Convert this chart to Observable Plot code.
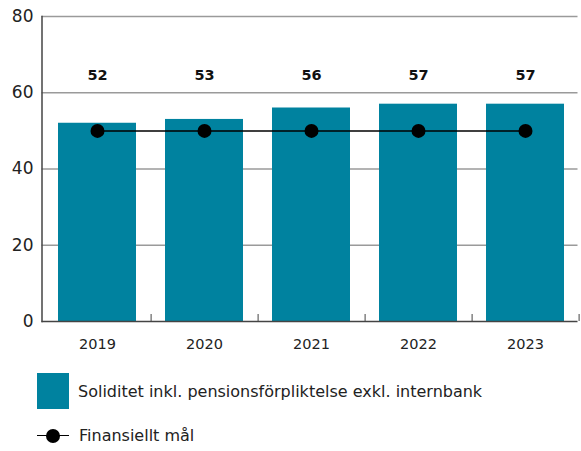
<!DOCTYPE html>
<html>
<head>
<meta charset="utf-8">
<script src="https://cdn.jsdelivr.net/npm/d3@7"></script>
<script src="https://cdn.jsdelivr.net/npm/@observablehq/plot@0.6"></script>
<style>
  body { margin: 0; background: #fff; font-family: "DejaVu Sans", sans-serif; }
  #legend { position: relative; height: 91px; color: #222; font-size: 16px; }
  .row { position: absolute; left: 0; display: flex; align-items: center; }
  .sw { width: 32px; height: 36px; background: #00829f; }
  .ln { position: relative; width: 32px; height: 14px; }
  .ln::before { content: ""; position: absolute; left: 0; right: 0; top: 6.5px; border-top: 1.5px solid #000; }
  .ln::after { content: ""; position: absolute; left: 9px; top: 0; width: 14px; height: 14px; border-radius: 50%; background: #000; }
</style>
</head>
<body>
<div id="chart"></div>
<div id="legend"></div>
<script>
const years = ["2019", "2020", "2021", "2022", "2023"];
const solidity = [52, 53, 56, 57, 57];
const target = [50, 50, 50, 50, 50];
const yTicks = [0, 20, 40, 60, 80];
const labelLevel = 64.5;
const barColor = "#00829f";
const seriesNames = ["Soliditet inkl. pensionsförpliktelse exkl. internbank", "Finansiellt mål"];

const data = years.map((y, i) => ({year: y, value: solidity[i], target: target[i]}));

const W = 581, H = 360;
const mL = 43, mR = 2;
const step = (W - mL - mR) / years.length;

const chart = Plot.plot({
  width: W, height: H,
  marginTop: 16, marginBottom: 39, marginLeft: mL, marginRight: mR,
  style: {fontFamily: "DejaVu Sans, sans-serif", color: "#222", background: "#fff"},
  x: {domain: years, paddingInner: 0.27, paddingOuter: 0.135, label: null},
  y: {domain: [0, 80], label: null},
  marks: [
    Plot.gridY(yTicks.filter(d => d > 0), {stroke: "#9a9a9a", strokeOpacity: 1, strokeWidth: 1.3, dx: -1.5}),
    Plot.barY(data, {x: "year", y: "value", fill: barColor}),
    Plot.line(data, {x: "year", y: "target", stroke: "#000", strokeWidth: 1.5}),
    Plot.dot(data, {x: "year", y: "target", r: 7, fill: "#000"}),
    Plot.text(data, {x: "year", y: () => labelLevel, text: d => String(d.value), fontWeight: "bold", fontSize: 14.5, fill: "#111"}),
    Plot.ruleY([0], {stroke: "#444", strokeWidth: 1.5, dx: -1.5}),
    Plot.frame({anchor: "left", stroke: "#444", strokeWidth: 1.5, dx: -1.5}),
    Plot.axisY({ticks: yTicks, tickSize: 0, tickPadding: 10, fontSize: 17, fill: "#222", label: null}),
    Plot.axisX({tickSize: 0, tickPadding: 17, fontSize: 14.5, fill: "#222", label: null}),
    Plot.axisX({tickSize: -7, text: null, dx: step / 2, stroke: "#444", label: null})
  ]
});
document.getElementById("chart").appendChild(chart);

const legend = document.getElementById("legend");
legend.innerHTML = `
  <div class="row" style="left:37px; top:13px;"><div class="sw"></div><span style="margin-left:9px">${seriesNames[0]}</span></div>
  <div class="row" style="left:37px; top:66px;"><div class="ln"></div><span style="margin-left:10px">${seriesNames[1]}</span></div>
`;
legend.querySelector(".sw").style.background = barColor;
</script>
</body>
</html>
